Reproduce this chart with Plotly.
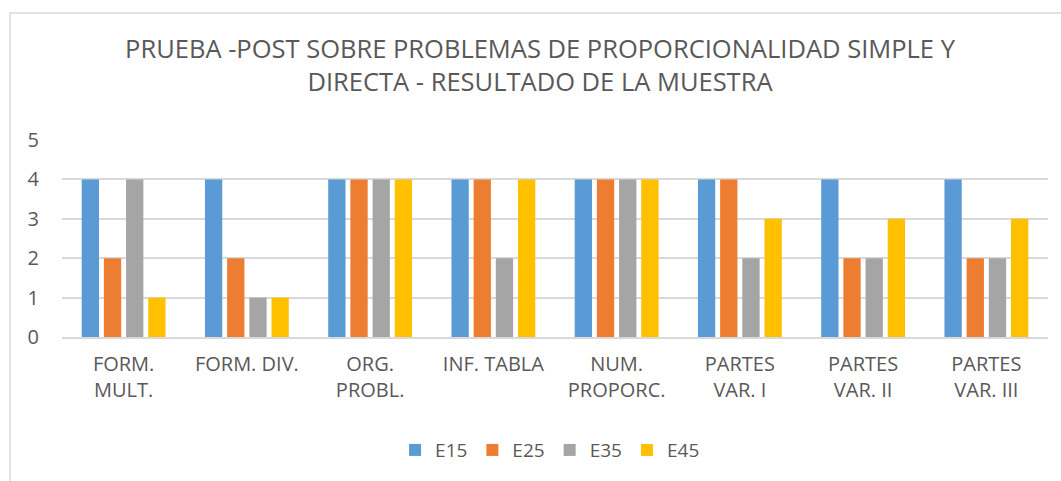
import plotly.graph_objects as go

categories = ["FORM.<br>MULT.", "FORM. DIV.", "ORG.<br>PROBL.", "INF. TABLA",
              "NUM.<br>PROPORC.", "PARTES<br>VAR. I", "PARTES<br>VAR. II", "PARTES<br>VAR. III"]
e15 = [4, 4, 4, 4, 4, 4, 4, 4]
e25 = [2, 2, 4, 4, 4, 4, 2, 2]
e35 = [4, 1, 4, 2, 4, 2, 2, 2]
e45 = [1, 1, 4, 4, 4, 3, 3, 3]
series_names = ["E15", "E25", "E35", "E45"]
colors = ["#5B9BD5", "#ED7D31", "#A5A5A5", "#FFC000"]
title_text = "PRUEBA -POST SOBRE PROBLEMAS DE PROPORCIONALIDAD SIMPLE Y<br>DIRECTA - RESULTADO DE LA MUESTRA"

FONT = "Open Sans"
TXT = "#595959"

fig = go.Figure()
for name, vals, col in zip(series_names, [e15, e25, e35, e45], colors):
    fig.add_trace(go.Bar(x=categories, y=vals, name=name, marker=dict(color=col, line=dict(width=0))))

fig.update_layout(
    width=1061, height=481,
    margin=dict(l=62, r=13, t=140, b=144),
    paper_bgcolor="white", plot_bgcolor="white",
    barmode="group", bargap=0.28, bargroupgap=0.22,
    font=dict(family=FONT, color=TXT, size=20),
    title=dict(text=title_text, x=540 / 1061, xanchor="center", y=1 - 58 / 481, yanchor="middle",
               font=dict(family=FONT, size=25.5, color=TXT)),
    legend=dict(orientation="h", x=0.495, xanchor="center", y=-0.574, yanchor="middle",
                font=dict(family=FONT, size=19, color=TXT), itemwidth=30, traceorder="normal"),
    showlegend=True,
)
fig.update_yaxes(range=[0, 5], dtick=1, showgrid=True, gridcolor="#D9D9D9", gridwidth=1.5,
                 zeroline=False, showline=False, ticks="", ticklen=0, ticklabelstandoff=22,
                 tickfont=dict(family=FONT, size=20, color=TXT), fixedrange=True)
fig.update_xaxes(showline=True, linecolor="#D9D9D9", linewidth=1.5, ticks="", ticklabelstandoff=8,
                 tickfont=dict(family=FONT, size=20, color=TXT), fixedrange=True)

# outer chart border (partially cropped in reference)
fig.add_shape(type="rect", xref="paper", yref="paper",
              x0=(10 - 62) / 986, x1=1.1, y0=-0.9, y1=(337 - 13) / 197,
              line=dict(color="#D9D9D9", width=1.5), fillcolor="rgba(0,0,0,0)", layer="below")

fig.write_html("out.html", config={"displayModeBar": False},
               post_script="document.body.style.margin='0';")
